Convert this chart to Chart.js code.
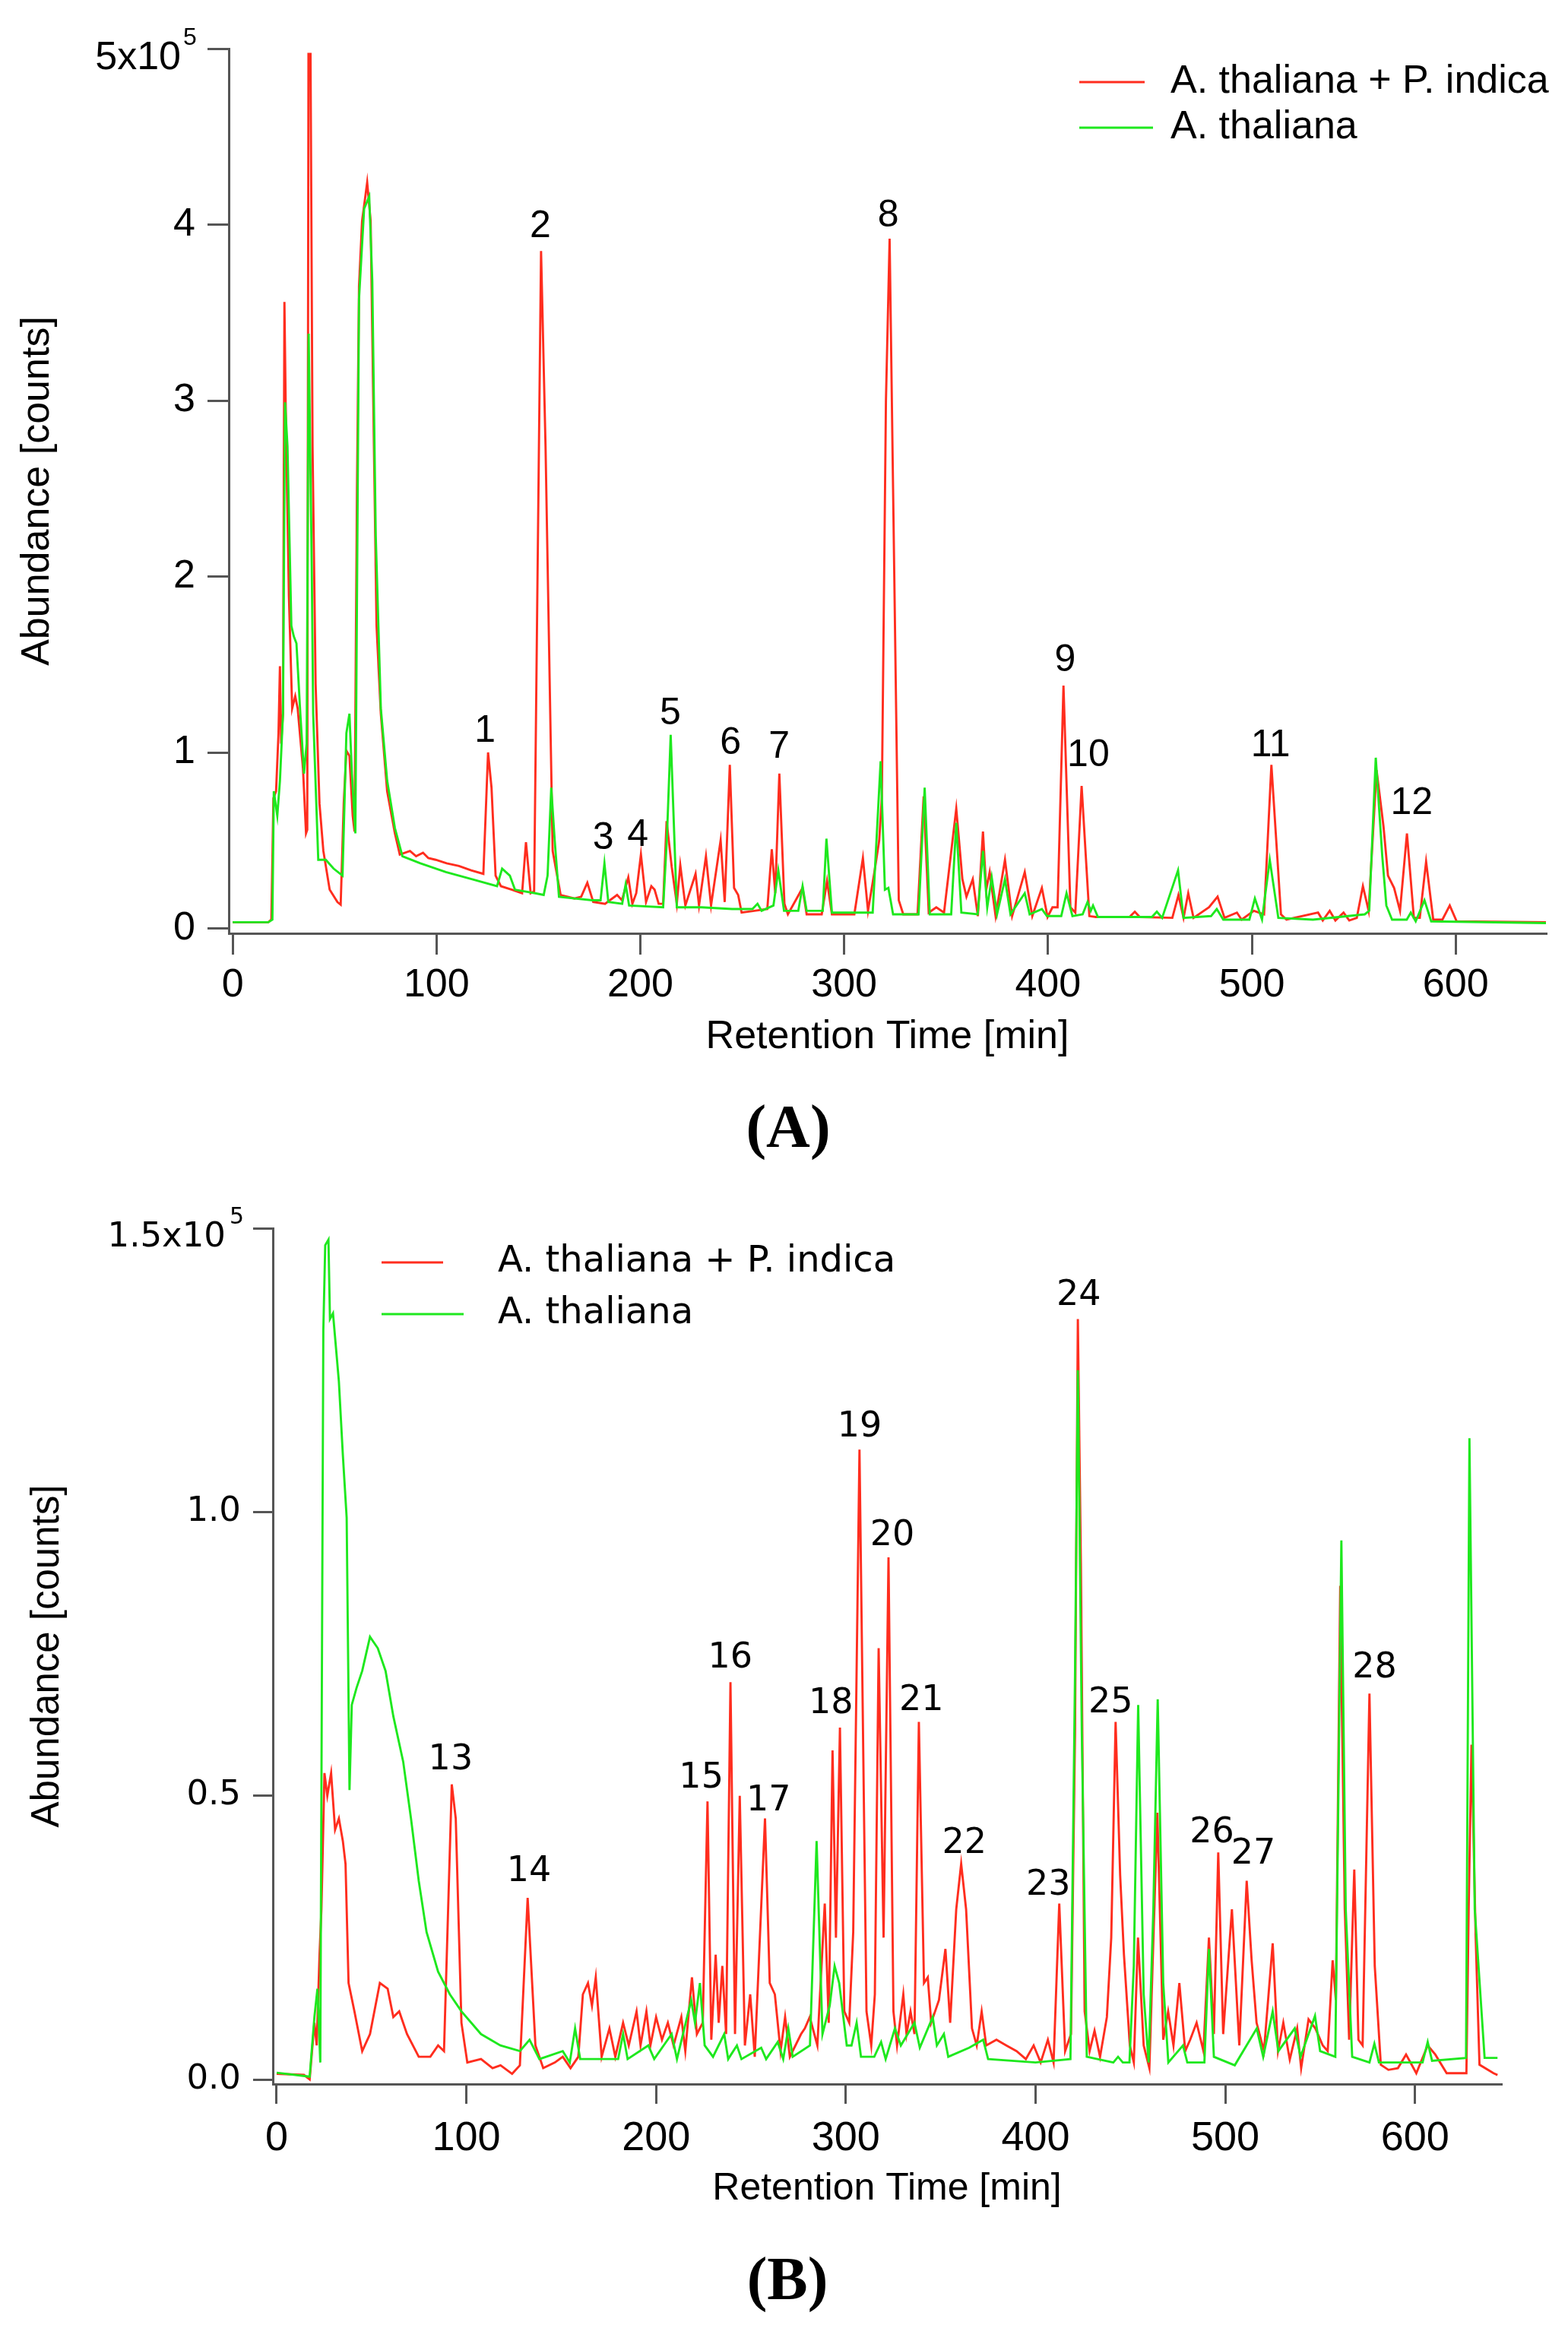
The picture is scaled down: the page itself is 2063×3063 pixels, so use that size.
<!DOCTYPE html>
<html>
<head>
<meta charset="utf-8">
<script src="https://cdn.jsdelivr.net/npm/chart.js@4.4.1/dist/chart.umd.min.js"></script>
<style>
  html, body { margin:0; padding:0; background:#fff; }
  body { width:2063px; height:3063px; position:relative; overflow:hidden; }
  .wrap { position:absolute; left:0; width:2063px; }
  #wrapA { top:0; height:1420px; }
  #wrapB { top:1450px; height:1500px; }
  .cap { position:absolute; width:200px; text-align:center; font-family:"Liberation Serif","Times New Roman",serif; font-weight:bold; font-size:80px; line-height:1; }
</style>
</head>
<body>
<div class="wrap" id="wrapA"><canvas id="chartA" width="2063" height="1420"></canvas></div>
<div class="wrap" id="wrapB"><canvas id="chartB" width="2063" height="1500"></canvas></div>
<div class="cap" style="left:937px;top:1442px;">(A)</div>
<div class="cap" style="left:936px;top:2958px;">(B)</div>
<script>
// ---------------- DATA (abundance in units of 10^5 counts, time in min) ----------------
const seriesNames = ['A. thaliana + P. indica', 'A. thaliana'];

const xTicks = [0, 100, 200, 300, 400, 500, 600];
const yTicksA = [0, 1, 2, 3, 4, 5];
const yTickLabelsA = ['0', '1', '2', '3', '4', ''];
const yTopMantissaA = '5x10', yTopExponentA = '5';
const yTicksB = [0, 0.5, 1.0, 1.5];
const yTickLabelsB = ['0.0', '0.5', '1.0', ''];
const yTopMantissaB = '1.5x10', yTopExponentB = '5';

// Panel A: A. thaliana + P. indica
const redA = [[0,0.035],[17.5,0.035],[19,0.05],[20,0.74],[21.3,0.78],[22.5,1.11],[23.2,1.49],[23.8,1.05],[24.7,1.22],[25.4,3.56],[26,2.99],[27.6,1.89],[29.2,1.25],[30.7,1.32],[31.9,1.25],[34.5,0.91],[36,0.54],[36.6,0.56],[37.2,4.97],[38.2,4.97],[39.2,2.74],[40.7,1.39],[42.6,0.71],[44.5,0.44],[47.6,0.22],[51.4,0.15],[53,0.135],[54.5,0.71],[55.8,1.01],[57.3,0.98],[58.9,0.64],[59.8,0.55],[61,2.5],[62,3.65],[63.5,4.02],[66,4.24],[67.7,4.02],[68.9,3.07],[70.6,1.72],[72.7,1.22],[75.8,0.78],[79.6,0.54],[82,0.42],[87,0.44],[90,0.41],[93.4,0.43],[96,0.4],[99.6,0.39],[105,0.37],[111,0.355],[117,0.33],[123,0.31],[125.3,1.0],[127,0.8],[129,0.3],[131.6,0.24],[137,0.22],[142,0.2],[143.9,0.49],[146.2,0.2],[147.9,0.21],[151.3,3.85],[153.5,2.74],[157,0.44],[160.9,0.19],[167.7,0.17],[171,0.18],[174,0.26],[176.9,0.15],[182.7,0.14],[188.6,0.19],[191,0.16],[194.1,0.29],[196.1,0.14],[198,0.2],[200.3,0.42],[202.8,0.15],[205.4,0.24],[207,0.22],[209,0.14],[211.2,0.14],[212.9,0.61],[215.4,0.35],[217.9,0.14],[219.6,0.36],[222.1,0.13],[227.1,0.31],[228.8,0.13],[232.2,0.41],[234.7,0.13],[239.4,0.5],[241.4,0.15],[243.9,0.93],[246,0.23],[248,0.19],[249.7,0.09],[256,0.1],[262.3,0.11],[264.5,0.45],[266.2,0.2],[268.2,0.88],[270.7,0.14],[272.4,0.08],[279.6,0.23],[281.6,0.08],[289,0.08],[291.6,0.27],[294,0.08],[305,0.08],[309.2,0.4],[311.7,0.1],[314.7,0.31],[317.2,0.5],[318.5,0.75],[320.5,3.0],[322.3,3.92],[324,2.5],[326.8,0.16],[329,0.08],[336,0.08],[339,0.75],[341.5,0.09],[345.2,0.12],[349,0.09],[355,0.68],[358,0.28],[360,0.18],[363.1,0.28],[365.6,0.07],[368.1,0.55],[369.7,0.22],[371.4,0.32],[374.3,0.07],[378.9,0.39],[382.4,0.07],[388.6,0.32],[392.3,0.07],[397,0.23],[399.8,0.065],[402.2,0.12],[404.7,0.12],[407.6,1.38],[411,0.12],[413.4,0.09],[416.5,0.81],[420.3,0.07],[423.5,0.065],[440,0.065],[442.6,0.095],[445,0.065],[461,0.06],[464,0.19],[466.5,0.06],[468.8,0.2],[471.4,0.06],[479,0.12],[483.2,0.18],[486.6,0.06],[492.7,0.09],[495,0.05],[501,0.1],[506,0.08],[509.6,0.93],[514.3,0.08],[517,0.05],[532.5,0.09],[534.8,0.045],[538.2,0.1],[541,0.045],[545,0.09],[547.8,0.045],[551.5,0.06],[554.5,0.24],[557.3,0.1],[561.2,0.9],[564.6,0.58],[566.8,0.3],[569.8,0.23],[572.7,0.1],[576.1,0.54],[579.5,0.06],[582.4,0.06],[585.5,0.38],[589,0.05],[593.5,0.05],[597.1,0.13],[600.5,0.04],[645,0.035]];

// Panel A: A. thaliana
const greenA = [[0,0.035],[17.5,0.035],[19.5,0.05],[20.2,0.78],[21.9,0.64],[23.2,0.84],[24.7,1.22],[25.7,2.99],[26.9,2.74],[28.8,1.72],[30,1.66],[31.3,1.62],[33.2,1.22],[35,0.88],[36.3,1.05],[37.3,3.38],[38.8,2.06],[39.5,1.22],[42,0.39],[45.7,0.39],[49.5,0.34],[53.9,0.3],[55.8,1.11],[57.3,1.22],[58.5,0.88],[60.2,0.54],[62,3.58],[64.5,4.09],[67,4.16],[68.5,3.68],[70.2,2.23],[72.7,1.25],[75.8,0.84],[79.6,0.57],[83.3,0.41],[92.1,0.37],[104.6,0.32],[117.2,0.28],[129.7,0.24],[132.2,0.34],[136,0.3],[138.5,0.22],[148.4,0.2],[152.6,0.19],[154.5,0.3],[156.3,0.8],[158,0.5],[160.1,0.18],[167.7,0.17],[176.5,0.16],[180.5,0.16],[182.4,0.37],[184.3,0.15],[191.1,0.14],[192.8,0.25],[194.5,0.13],[211.2,0.12],[213,0.5],[214.9,1.1],[217.9,0.12],[230,0.12],[245,0.11],[255,0.11],[257.5,0.14],[259.5,0.1],[265.3,0.13],[267.7,0.33],[270.5,0.1],[277.5,0.1],[279.6,0.24],[281.6,0.1],[289.5,0.1],[291.3,0.51],[294,0.09],[314,0.09],[317.9,0.95],[320,0.22],[321.7,0.23],[324,0.08],[336.5,0.08],[339.5,0.8],[342,0.08],[352.5,0.08],[355,0.6],[357.5,0.09],[365.5,0.08],[368.1,0.44],[370.2,0.12],[372.4,0.29],[375,0.08],[378.9,0.28],[381.6,0.08],[388.6,0.2],[391,0.08],[397,0.11],[399.5,0.07],[406.5,0.07],[409.1,0.2],[412,0.07],[417,0.08],[419.4,0.15],[421,0.1],[422.1,0.13],[424.5,0.065],[451,0.065],[453.4,0.095],[456,0.06],[463.8,0.33],[466.5,0.06],[480,0.07],[482.8,0.11],[486,0.05],[498.8,0.05],[501.5,0.17],[505,0.05],[508.8,0.39],[513,0.06],[530,0.05],[555.4,0.08],[557.6,0.1],[560.8,0.97],[564,0.41],[566,0.13],[568.8,0.05],[576,0.05],[578,0.09],[580.4,0.04],[584.7,0.16],[588,0.04],[645,0.03]];

// Panel B: A. thaliana + P. indica
const redB = [[0,0.01],[14.4,0.008],[17.4,0.0],[19.9,0.1],[21.1,0.06],[22.6,0.22],[23.6,0.3],[25.2,0.54],[26.7,0.5],[28.7,0.54],[30.8,0.44],[32.8,0.46],[34.9,0.42],[36.3,0.38],[37.9,0.17],[41,0.12],[45.1,0.05],[49.2,0.08],[54.4,0.17],[58.5,0.16],[61.5,0.11],[64.6,0.12],[68.7,0.08],[74.9,0.04],[81,0.04],[85.1,0.06],[88.2,0.05],[92.3,0.52],[94.4,0.46],[97.4,0.1],[100.5,0.03],[107.7,0.036],[113.8,0.02],[118,0.025],[124.1,0.01],[128.2,0.025],[132.3,0.32],[136.4,0.06],[140.5,0.02],[146.7,0.03],[150.8,0.04],[154.9,0.02],[159,0.04],[161.4,0.15],[164.1,0.17],[166.2,0.13],[168.2,0.18],[171.3,0.04],[175.4,0.09],[178.5,0.04],[182.6,0.1],[185.6,0.06],[189.7,0.12],[191.8,0.06],[194.9,0.12],[197,0.06],[200,0.11],[203.1,0.07],[206.2,0.1],[209.2,0.06],[213.3,0.11],[215.4,0.05],[218.9,0.18],[221.5,0.08],[224.6,0.1],[227.1,0.49],[229.1,0.07],[231.4,0.22],[233,0.1],[234.9,0.2],[236.9,0.08],[239.2,0.7],[241.6,0.08],[244.1,0.5],[246.8,0.06],[249.6,0.15],[252,0.04],[257.4,0.46],[259.9,0.17],[262.6,0.15],[265.6,0.05],[268,0.11],[270.5,0.04],[276.4,0.08],[278.4,0.09],[281,0.11],[285,0.06],[288.9,0.31],[291,0.1],[293,0.58],[294.8,0.25],[296.9,0.62],[299.2,0.12],[301.8,0.1],[303.9,0.26],[307.2,1.11],[310.9,0.12],[313.4,0.06],[315.3,0.15],[317.3,0.76],[319.9,0.25],[322.5,0.92],[325.1,0.12],[327,0.06],[330.3,0.15],[332,0.08],[334.1,0.12],[336.2,0.08],[338.5,0.63],[341.2,0.17],[343.2,0.18],[345,0.1],[349.1,0.14],[352.5,0.23],[355,0.1],[358.2,0.3],[360.8,0.38],[363.4,0.3],[366.5,0.09],[369,0.06],[371.6,0.12],[374,0.06],[379.4,0.07],[384.6,0.06],[390,0.05],[394.9,0.036],[399,0.06],[402.7,0.03],[406.5,0.07],[409.5,0.03],[412.5,0.31],[415.6,0.05],[418.7,0.08],[420.8,0.61],[422.3,1.34],[423.9,0.91],[425.9,0.12],[428.5,0.05],[431.1,0.086],[434,0.04],[437.6,0.11],[439.9,0.25],[442.2,0.63],[444.6,0.36],[446.6,0.22],[449.7,0.06],[451.8,0.03],[454,0.25],[457,0.06],[460,0.02],[464.2,0.47],[467.3,0.07],[469.9,0.12],[472.7,0.06],[475.8,0.17],[478.9,0.05],[481.5,0.07],[484.9,0.1],[488.5,0.05],[491.4,0.25],[494,0.08],[496.3,0.4],[498.9,0.08],[503.5,0.3],[507.4,0.06],[511.3,0.35],[513.9,0.21],[516.5,0.1],[520.4,0.05],[525,0.24],[527.8,0.05],[530.6,0.1],[534,0.035],[537.9,0.09],[540,0.02],[543.9,0.106],[547.5,0.09],[551.4,0.06],[554,0.05],[556.6,0.21],[558.3,0.14],[560.6,0.87],[563,0.3],[565.3,0.07],[568,0.37],[570.2,0.07],[572.4,0.06],[576,0.68],[578.8,0.2],[582,0.026],[586,0.017],[591,0.02],[595.3,0.044],[600.7,0.011],[606.7,0.06],[610.7,0.044],[616.7,0.011],[627.1,0.011],[628.3,0.3],[629.8,0.59],[632,0.25],[634,0.026],[641.4,0.011],[643.5,0.008]];

// Panel B: A. thaliana
const greenB = [[0,0.012],[17.4,0.005],[19.9,0.11],[21.5,0.16],[23,0.03],[24.6,1.32],[25.6,1.47],[27.3,1.48],[28.1,1.34],[29.7,1.35],[32.8,1.23],[34.9,1.1],[36.9,0.99],[38.4,0.51],[39.6,0.66],[42.1,0.69],[45.1,0.72],[49.2,0.78],[53.3,0.76],[57.4,0.72],[61.5,0.64],[66.7,0.56],[70.8,0.46],[74.9,0.35],[79,0.26],[85.1,0.19],[91.3,0.15],[97.4,0.12],[107.7,0.08],[117.9,0.06],[128.2,0.05],[133.3,0.07],[138.5,0.036],[150.8,0.05],[154.5,0.03],[157.3,0.09],[160,0.036],[180,0.036],[182.6,0.08],[185,0.036],[195.9,0.06],[199,0.036],[208.2,0.08],[211,0.036],[218.5,0.14],[220.5,0.1],[223.1,0.17],[225.6,0.06],[230,0.04],[235.9,0.08],[238,0.036],[242.6,0.06],[245,0.036],[255.4,0.056],[258,0.036],[264.1,0.066],[267,0.036],[269.7,0.09],[272,0.04],[281.1,0.06],[284.6,0.42],[287.7,0.08],[291.5,0.13],[294.1,0.2],[296.5,0.17],[300.5,0.06],[303,0.06],[305.7,0.1],[308,0.04],[315,0.04],[318.6,0.066],[321,0.036],[325.9,0.09],[329,0.06],[336.2,0.1],[339,0.056],[345.8,0.11],[348,0.06],[351.7,0.08],[354,0.04],[365,0.056],[372.4,0.07],[375,0.036],[400,0.03],[418.4,0.036],[420.8,0.71],[422.3,1.25],[424.4,0.61],[427,0.04],[441,0.03],[443.5,0.04],[446,0.03],[449.5,0.03],[451.8,0.2],[454.1,0.66],[457,0.15],[459.6,0.03],[462.1,0.3],[464.4,0.67],[467.3,0.17],[470,0.03],[477.7,0.06],[480,0.03],[489,0.03],[491.4,0.23],[494,0.04],[505,0.025],[516.6,0.09],[520,0.04],[525,0.12],[528,0.05],[536.6,0.09],[539.7,0.04],[547.3,0.112],[550,0.05],[558,0.04],[561.2,0.95],[563.5,0.3],[566.9,0.04],[576,0.03],[578.6,0.063],[581,0.03],[604,0.03],[606.7,0.066],[609,0.033],[626.9,0.038],[628.7,1.13],[631.5,0.3],[636.7,0.038],[643.5,0.038]];

// Peak numbering (label text, retention time, label height)
const peakNamesA = ['1','2','3','4','5','6','7','8','9','10','11','12'];
const peakTimesA = [123.8,150.9,181.8,198.8,214.7,244.3,268.1,321.6,408.4,419.8,509.2,578.4];
const peakLevelsA = [1.12,3.99,0.51,0.53,1.22,1.05,1.03,4.05,1.52,0.98,1.04,0.71];
const peakNamesB = ['13','14','15','16','17','18','19','20','21','22','23','24','25','26','27','28'];
const peakTimesB = [91.7,133.0,223.8,239.1,259.3,292.2,307.3,324.5,339.8,362.5,406.7,422.8,439.6,493.0,514.8,578.7];
const peakLevelsB = [0.563,0.366,0.53,0.742,0.49,0.661,1.149,0.958,0.667,0.415,0.341,1.381,0.663,0.434,0.396,0.725];

// ---------------- STYLE ----------------
const RED = 'rgb(255,45,30)';
const GREEN = 'rgb(30,232,30)';
const AXIS = '#555';
const SANS = '"Liberation Sans", Arial, Helvetica, sans-serif';
const WIDE = '"DejaVu Sans", Verdana, sans-serif';

Chart.defaults.font.family = SANS;
Chart.defaults.color = '#000';

const toXY = arr => arr.map(p => ({x: p[0], y: p[1]}));

const overlay = {
  id: 'overlay',
  afterDraw(chart, args, o) {
    const {ctx, chartArea} = chart;
    const xs = chart.scales.x, ys = chart.scales.y;
    ctx.save();
    ctx.fillStyle = '#000';
    // peak numbers
    ctx.font = o.peakFont;
    ctx.textAlign = 'center';
    ctx.textBaseline = 'middle';
    o.peakNames.forEach((n, i) => {
      ctx.fillText(n, xs.getPixelForValue(o.peakTimes[i]), ys.getPixelForValue(o.peakLevels[i]));
    });
    // top y tick label with exponent
    const ty = ys.getPixelForValue(o.topValue);
    ctx.font = o.tickFont;
    ctx.textAlign = 'right';
    ctx.fillText(o.mantissa, chartArea.left - o.mantGap, ty + o.mantDrop);
    ctx.font = o.expFont;
    ctx.textAlign = 'left';
    ctx.fillText(o.exponent, chartArea.left - o.expGap, ty - o.expRise);
    // legend
    ctx.font = o.legendFont;
    ctx.textAlign = 'left';
    chart.data.datasets.forEach((ds, i) => {
      const yy = o.legendY[i];
      ctx.strokeStyle = ds.borderColor;
      ctx.lineWidth = 3;
      ctx.beginPath();
      ctx.moveTo(o.legendLineX[0], yy);
      ctx.lineTo(o.legendLineX[1] + (i === 1 ? o.legendGreenExtra : 0), yy);
      ctx.stroke();
      ctx.fillStyle = '#000';
      ctx.fillText(ds.label, o.legendTextX, yy);
    });
    ctx.restore();
  }
};

function makeChart(id, cfg) {
  const gridOpts = {drawOnChartArea: false, drawTicks: true, tickLength: cfg.tickLen, tickWidth: 3, tickColor: AXIS, color: AXIS, lineWidth: 3};
  return new Chart(document.getElementById(id), {
    type: 'line',
    data: {
      datasets: [
        {label: seriesNames[0], data: toXY(cfg.red), borderColor: RED, borderWidth: 2.9, pointRadius: 0, tension: 0, order: 1},
        {label: seriesNames[1], data: toXY(cfg.green), borderColor: GREEN, borderWidth: 2.9, pointRadius: 0, tension: 0, order: 0}
      ]
    },
    options: {
      responsive: false,
      animation: false,
      devicePixelRatio: 1,
      events: [],
      layout: {padding: cfg.padding},
      plugins: {
        legend: {display: false},
        tooltip: {enabled: false},
        overlay: cfg.overlay
      },
      scales: {
        x: {
          type: 'linear', min: cfg.xMin, max: cfg.xMax,
          afterFit: s => { s.height = cfg.xHeight; },
          afterBuildTicks: s => { s.ticks = xTicks.map(v => ({value: v})); },
          grid: gridOpts,
          border: {display: true, color: AXIS, width: 3},
          ticks: {font: {size: cfg.xTickSize, family: SANS}, color: '#000', padding: cfg.xTickPad, maxRotation: 0, callback: v => String(v)},
          title: {display: true, text: 'Retention Time [min]', font: {size: cfg.xTitleSize, family: SANS}, color: '#000', padding: {top: 0, bottom: cfg.xTitlePad}}
        },
        y: {
          type: 'linear', min: cfg.yMin, max: cfg.yMax,
          afterFit: s => { s.width = cfg.yWidth; },
          afterBuildTicks: s => { s.ticks = cfg.yTicks.map(v => ({value: v})); },
          grid: gridOpts,
          border: {display: true, color: AXIS, width: 3},
          ticks: {font: {size: cfg.yTickSize, family: cfg.yTickFamily}, color: '#000', padding: cfg.yTickPad,
                  callback: (v) => { const k = cfg.yTicks.findIndex(t => Math.abs(t - v) < 1e-9); return k >= 0 ? cfg.yTickLabels[k] : ''; }},
          title: {display: true, text: 'Abundance [counts]', font: {size: cfg.yTitleSize, family: SANS}, color: '#000', padding: {top: cfg.yTitlePad, bottom: 0}}
        }
      }
    },
    plugins: [overlay]
  });
}

makeChart('chartA', {
  red: redA, green: greenA,
  padding: {left: 0, right: 29, top: 64, bottom: 0},
  xMin: -1.9, xMax: 644.3, yMin: -0.028, yMax: 5,
  xHeight: 192, yWidth: 301, tickLen: 28,
  xTickSize: 52, xTickPad: 9, xTitleSize: 52, xTitlePad: 24,
  yTicks: yTicksA, yTickLabels: yTickLabelsA, yTickSize: 52, yTickFamily: SANS, yTickPad: 16,
  yTitleSize: 52, yTitlePad: 18,
  overlay: {
    peakNames: peakNamesA, peakTimes: peakTimesA, peakLevels: peakLevelsA, peakFont: '50px ' + SANS,
    topValue: 5, mantissa: yTopMantissaA, exponent: yTopExponentA,
    tickFont: '52px ' + SANS, expFont: '32px ' + SANS,
    mantGap: 63, mantDrop: 13, expGap: 60, expRise: 14,
    legendFont: '52px ' + SANS, legendY: [108, 168], legendLineX: [1420, 1506], legendGreenExtra: 11, legendTextX: 1540
  }
});

makeChart('chartB', {
  red: redB, green: greenB,
  padding: {left: 0, right: 88, top: 166, bottom: 0},
  xMin: -2.0, xMax: 645.4, yMin: -0.008, yMax: 1.5,
  xHeight: 208, yWidth: 359, tickLen: 26,
  xTickSize: 54, xTickPad: 14, xTitleSize: 50, xTitlePad: 40,
  yTicks: yTicksB, yTickLabels: yTickLabelsB, yTickSize: 45, yTickFamily: WIDE, yTickPad: 16,
  yTitleSize: 51, yTitlePad: 32,
  overlay: {
    peakNames: peakNamesB, peakTimes: peakTimesB, peakLevels: peakLevelsB, peakFont: '46px ' + WIDE,
    topValue: 1.5, mantissa: yTopMantissaB, exponent: yTopExponentB,
    tickFont: '45px ' + WIDE, expFont: '30px ' + WIDE,
    mantGap: 62, mantDrop: 12, expGap: 57, expRise: 14,
    legendFont: '48px ' + WIDE, legendY: [211, 279], legendLineX: [502, 583], legendGreenExtra: 27, legendTextX: 655
  }
});
</script>
</body>
</html>
